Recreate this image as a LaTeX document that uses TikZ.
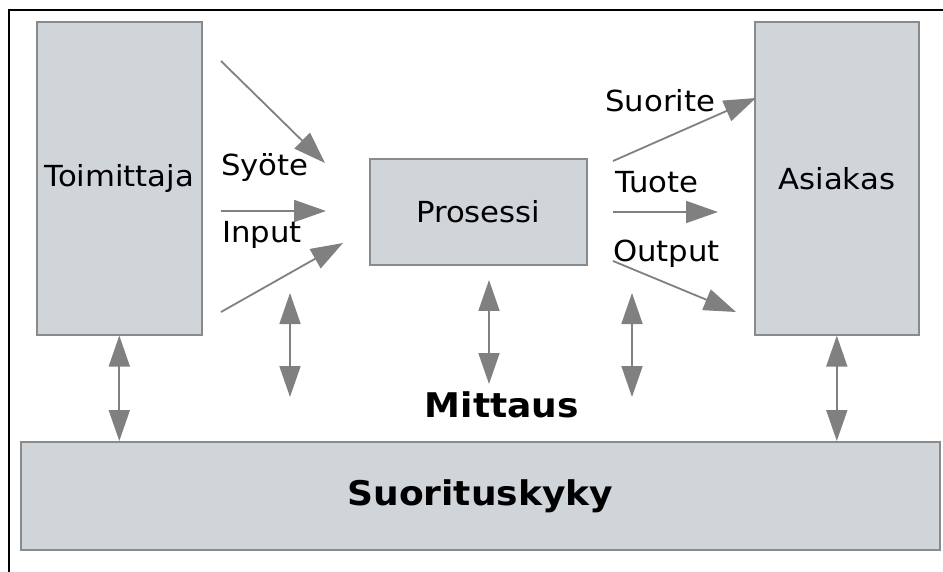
\documentclass[tikz,border=0pt]{standalone}
\usepackage{fontspec}
\setmainfont{DejaVu Sans}[FakeStretch=1.06]
\usetikzlibrary{arrows.meta}
\definecolor{boxfill}{HTML}{D0D5DA}
\definecolor{boxline}{HTML}{8A8A8A}
\definecolor{arrowgray}{HTML}{808080}

\begin{document}
\begin{tikzpicture}[x=1pt,y=-1pt,
  blockbox/.style={draw=boxline, line width=1.6pt, fill=boxfill, inner sep=0pt,
    anchor=north west, font=\fontsize{29}{34}\selectfont},
  flow/.style={draw=arrowgray, line width=1.8pt, -{Triangle[length=32pt,width=22pt]}},
  both/.style={draw=arrowgray, line width=1.8pt,
    {Triangle[length=31pt,width=21pt]}-{Triangle[length=31pt,width=21pt]}},
  lbl/.style={font=\fontsize{29}{34}\selectfont, inner sep=0pt, anchor=base west}]
\useasboundingbox (0,0) rectangle (943,572);

% outer frame (top and left edges)
\draw[line width=2pt] (9,572) -- (9,10) -- (943,10);

% blocks
\node[blockbox, minimum width=165pt, minimum height=313pt] (toim) at (36,21) {Toimittaja};
\node[blockbox, minimum width=164pt, minimum height=313pt] (asiak) at (754,21) {Asiakas};
\node[blockbox, minimum width=217pt, minimum height=106pt] (pros) at (369,158) {Prosessi};
\node[blockbox, minimum width=919pt, minimum height=108pt,
  font=\fontsize{34}{40}\selectfont\bfseries] (suor) at (20,441) {Suorituskyky};

% inputs
\coordinate (i1s) at (221,61);  \coordinate (i1e) at (325,163);
\coordinate (i2s) at (221,211); \coordinate (i2e) at (326,211);
\coordinate (i3s) at (221,312); \coordinate (i3e) at (343,243);
\draw[flow] (i1s) -- (i1e);
\draw[flow] (i2s) -- (i2e);
\draw[flow] (i3s) -- (i3e);
\node[lbl] (syote) at (221,176) {Syöte};
\node[lbl] (input) at (222,243) {Input};

% outputs
\coordinate (o1s) at (613,161); \coordinate (o1e) at (756,98);
\coordinate (o2s) at (613,212); \coordinate (o2e) at (718,212);
\coordinate (o3s) at (613,261); \coordinate (o3e) at (736,312);
\draw[flow] (o1s) -- (o1e);
\draw[flow] (o2s) -- (o2e);
\draw[flow] (o3s) -- (o3e);
\node[lbl] (suorite) at (605,112) {Suorite};
\node[lbl] (tuote) at (615,193) {Tuote};
\node[lbl] (output) at (613,262) {Output};

% measurement arrows
\draw[both] (toim.south) -- (toim.south |- suor.north);
\draw[both] (asiak.south) -- (asiak.south |- suor.north);
\coordinate (m1t) at (290,293); \coordinate (m1b) at (290,397);
\coordinate (m2t) at (489,280); \coordinate (m2b) at (489,384);
\coordinate (m3t) at (632,293); \coordinate (m3b) at (632,397);
\draw[both] (m1t) -- (m1b);
\draw[both] (m2t) -- (m2b);
\draw[both] (m3t) -- (m3b);
\node[font=\fontsize{34}{40}\selectfont\bfseries, inner sep=0pt, anchor=base]
  (mittaus) at (502,417) {Mittaus};
\end{tikzpicture}
\end{document}
